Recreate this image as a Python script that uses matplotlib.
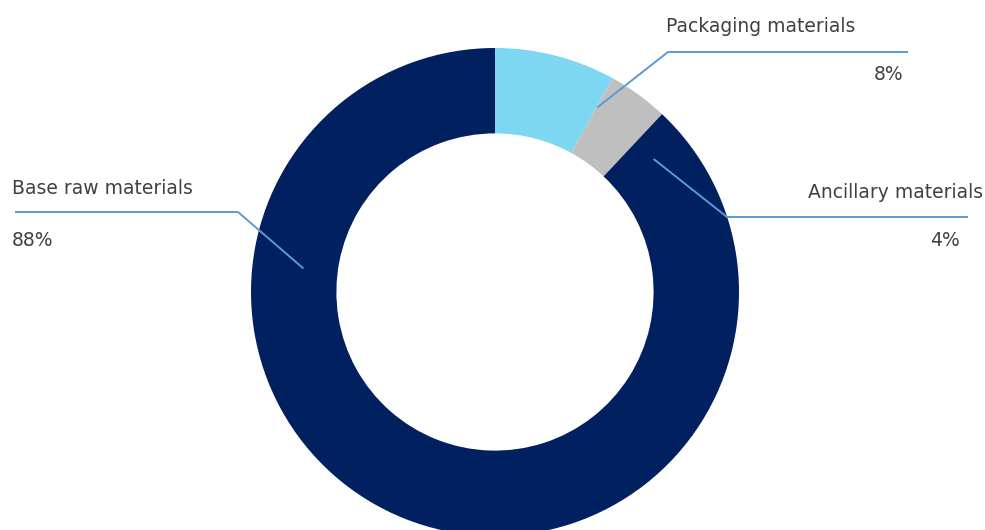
import numpy as np
import matplotlib.pyplot as plt

labels = ["Packaging materials", "Ancillary materials", "Base raw materials"]
values = [8, 4, 88]
pct_labels = ["8%", "4%", "88%"]
colors = ["#7DD6F2", "#BFBFBF", "#002060"]

W, H = 985, 530
fig = plt.figure(figsize=(W / 100, H / 100), dpi=100)
ax = fig.add_axes([0, 0, 1, 1])

cx, cy, R = 495, 238, 244
ax.pie(values, colors=colors, startangle=90, counterclock=False,
       radius=R, center=(cx, cy), frame=True,
       wedgeprops=dict(width=R * 0.35, linewidth=0))
ax.set_xlim(0, W)
ax.set_ylim(0, H)
ax.set_aspect("equal")
ax.axis("off")

line_color = "#5B9BD5"
text_color = "#404040"
font = dict(fontsize=13.5, color=text_color, family="DejaVu Sans")

# leader lines: anchor (angle clockwise from top, radius), elbow, end x
leaders = [
    (29, 211, (668, 478), 908),
    (50, 207, (727, 313), 968),
    (-83, 193, (238, 318), 15),
]
for (ang, r, elbow, xend) in leaders:
    a = np.deg2rad(ang)
    x0 = cx + r * np.sin(a)
    y0 = cy + r * np.cos(a)
    ax.plot([x0, elbow[0], xend], [y0, elbow[1], elbow[1]],
            color=line_color, lw=1.4, solid_capstyle="butt")

ax.text(666, 503, labels[0], ha="left", va="center", **font)
ax.text(903, 455, pct_labels[0], ha="right", va="center", **font)
ax.text(983, 338, labels[1], ha="right", va="center", **font)
ax.text(960, 289, pct_labels[1], ha="right", va="center", **font)
ax.text(12, 342, labels[2], ha="left", va="center", **font)
ax.text(12, 289, pct_labels[2], ha="left", va="center", **font)

fig.savefig("out.png", dpi=100)
